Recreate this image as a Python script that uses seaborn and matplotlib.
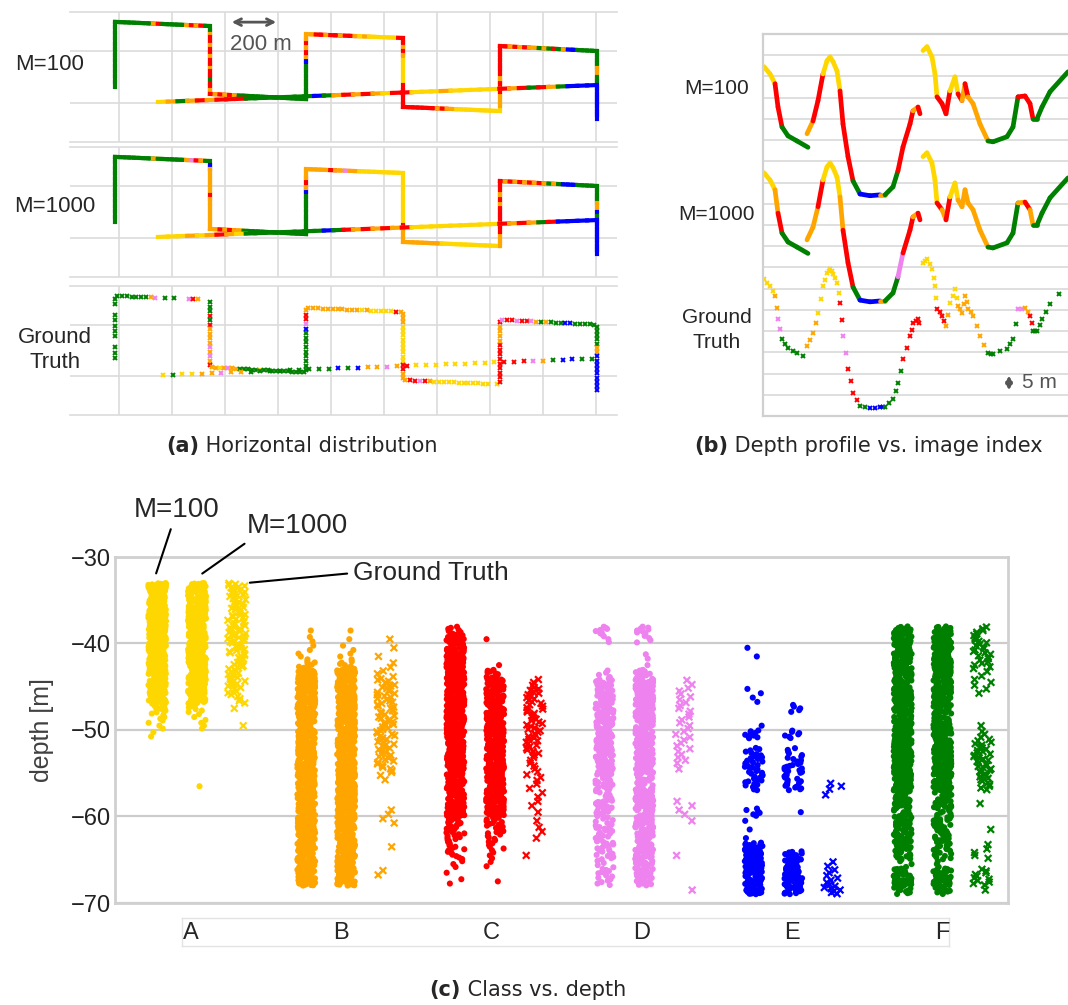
import matplotlib
matplotlib.use("Agg")
import matplotlib.pyplot as plt
import numpy as np
import pandas as pd
import seaborn as sns

CLASSES = ["A", "B", "C", "D", "E", "F"]
CLASS_COLORS = ["gold", "orange", "red", "violet", "blue", "green"]
METHODS = ["M=100", "M=1000", "Ground Truth"]

# ---- (a) survey track in metres: lawnmower polyline plus one crossing leg
TRACK_X = [-15, -15, 343, 343, 706, 706, 1072, 1072, 1438, 1438, 1804, 1804]
TRACK_Y = [60, 312, 296, 35, 15, 265, 250, -15, -31, 219, 200, -62]
CROSS_X = [147, 1804]
CROSS_Y = [4, 69]

# class letter for each stretch of a leg (11 polyline legs, then the crossing leg)
TRACK_M100 = [
    "FFFFFFFFFFFF", "FFFFFFFFBCFFFFFBCBCF", "FFBCCBCCBCCBCCFCCB",
    "CBCBCBFFFFFFFFFFFFFF", "FFFFFFFFEBCBCB", "BBCCBCCBCCBABAAAAAAC",
    "CCBCBAAAAAACCCCC", "CCCCCCCBCBBAAAAAAAAA", "ABBBCCCBCCCCCC",
    "CCBCBCBBFBFCFBEEFFFF", "FFFFBBFFEEEEEEEE",
    "ABFBCBCCCFFFFFFFEFBCBCBACCAAABAAAAACBCFCBFEEE",
]
TRACK_M1000 = [
    "FFFFFFFFFFFF", "FFFFFFFFBFFFFFFBDCBF", "FEBBBBBBBCBBBBBBBB",
    "BBCBCBBFFFFFFFFFFFFF", "FFFFFFFFFEBCBB", "BBBBBCBBDBBAAAAAAAAA",
    "AAAAAAAAAAAACBBB", "BBBBBBBBAAAAAAAAAAAA", "BBBCCCCCCBCBCC",
    "CBCBCBCBCBFBFEEEFFFF", "FFFFBBEFEEEEEEEE",
    "AAABABCBAFFFFFFFFEFCBCBCBCAAAAAAAAACBCBFCEEEE",
]
# "." = no ground-truth sample at that spot
TRACK_GT = [
    "FFF.FFFFF.FF", "FFFFFFFBD.F.F..DCB..", "FFFCFCBBBBDBDBC",
    "BBABDBBFFFFFAFFFFFFFFFFF", "FFFFFFFFFEDCCB", "BBBBBBBBBBBABAAAAACB",
    "BBBAAAAAAAAACCBB", "BCCDCBAAAAAAAAAAAA.A", "CCCCCCCCCBBBBC",
    "DCCDCCDBFBFFFEEFFFFF", "FFFFFBBEEEEEEEEE",
    "AFAABBDBBFFFFFFFFFEFEBBDBCAAAAAAAAACCCDBFEEFF",
]

# ---- (b) depth profile along the image sequence, three pieces
PROFILE_INDEX = [
    [4, 28, 48, 60, 76, 100, 136, 180],
    [176, 200, 220, 240, 256, 268, 280, 296, 308, 320, 340, 360, 388, 428,
     468, 488, 520, 540, 560, 588, 600, 620, 628],
    [640, 656, 676, 688, 696, 716, 732, 748, 768, 780, 796, 808, 820, 840,
     868, 900, 920, 976, 1000, 1020, 1048, 1068, 1080, 1096, 1116, 1148, 1220],
]
PROFILE_DEPTH = [
    [-37.7, -39.4, -41.7, -47.2, -51.9, -54.0, -55.2, -56.7],
    [-53.5, -50.5, -45.7, -39.4, -36.3, -35.4, -36.5, -38.7, -43.4, -51.2,
     -58.9, -64.6, -67.7, -68.1, -67.9, -67.9, -66.0, -62.2, -56.6, -51.2,
     -48.1, -47.2, -48.8],
    [-33.9, -33.0, -35.4, -39.4, -44.8, -46.4, -48.8, -43.4, -40.1, -44.1,
     -45.7, -41.7, -44.8, -46.4, -51.2, -55.2, -55.4, -54.2, -51.9, -44.8,
     -44.6, -46.4, -50.0, -50.0, -47.2, -43.6, -38.9],
]
PROFILE_M100 = ["AACCFFFF", "BCCAAAAACCCFEEBFFCCCBCC", "AAAACCCAACBCBBBFFFFCCCFFFFF"]
PROFILE_M1000 = ["AABCFFFF", "BBCAAAAABCCFEEBFFDCCBCC", "AAAACBCAABBBBBBFFFFBCBFFFFF"]
PROFILE_GT = ["AABDFFFF", "BBAAAAAACDCCFEEFFFCCCCC", "AAAACCBAABBBBBBFFFFDBCFFFFF"]
PROFILE_OFFSETS = [0, -25, -50]

# ---- (c) number of samples per 1 m depth bin, bins start at -33 m going down
DEPTH_TOPS = list(range(-33, -69, -1))
A_M100 = [34] * 13 + [30, 10, 5, 3, 2] + [0] * 18
A_M1000 = [34] * 13 + [26, 6, 3, 3, 0, 0, 0, 0, 0, 0, 1] + [0] * 12
A_GT = [10, 8, 8, 7, 8, 9, 8, 8, 7, 8, 8, 7, 5, 4, 1, 0, 1] + [0] * 19
B_M100 = [0, 0, 0, 0, 0, 1, 2, 2, 3, 8] + [30] * 19 + [24, 24, 24, 30, 30, 30, 0]
B_M1000 = [0, 0, 0, 0, 0, 1, 1, 2, 3, 7] + [30] * 25 + [0]
B_GT = [0, 0, 0, 0, 0, 0, 1, 1, 1, 2, 3, 7, 7, 7, 7, 7, 7, 7, 7, 6, 6, 5,
        2, 0, 0, 0, 2, 2, 0, 0, 1, 0, 0, 2, 0, 0]
C_M100 = [0, 0, 0, 0, 0, 8] + [30] * 21 + [14, 11, 9, 7, 6, 3, 1, 2, 0]
C_M1000 = [0, 0, 0, 0, 0, 0, 1, 0, 0, 1, 10] + [27] * 16 + [10, 8, 6, 5, 3, 2, 0, 1, 0]
C_GT = [0] * 11 + [3, 6, 6, 6, 6, 6, 6, 6, 5, 3, 3, 3, 2, 2, 2, 1, 1, 2, 1, 0, 1, 0, 0, 0, 0]
D_M100 = [0, 0, 0, 0, 0, 8, 3, 0, 0, 0, 4, 14, 17, 17, 17, 17, 17, 17, 17, 17,
          17, 17, 17, 14, 7, 14, 11, 6, 11, 11, 11, 8, 4, 8, 6, 0]
D_M1000 = [0, 0, 0, 0, 0, 9, 4, 0, 2, 1, 11] + [26] * 11 + \
          [17, 14, 22, 26, 20, 22, 17, 22, 26, 22, 17, 20, 14, 0]
D_GT = [0] * 11 + [2, 3, 3, 3, 3, 3, 3, 3, 3, 3, 1, 0, 0, 0, 2, 2, 1, 0, 0, 0, 1, 0, 0, 0, 1]
E_M100 = [0, 0, 0, 0, 0, 0, 0, 1, 1, 0, 0, 0, 2, 2, 0, 0, 1, 10, 0, 7, 10, 10, 9, 11,
          0, 0, 6, 1, 1, 1, 18, 21, 21, 24, 26, 24]
E_M1000 = [0] * 14 + [5, 0, 0, 7, 0, 5, 7, 10, 7, 10, 0, 0, 1, 0, 0, 0, 0, 16, 18, 21, 26, 18]
E_GT = [0] * 23 + [3, 1, 0, 0, 0, 0, 0, 0, 0, 2, 3, 4, 7]
F_M100 = [0, 0, 0, 0, 0, 17, 32, 32, 32, 32, 32, 20, 32, 32, 32, 17, 32, 32, 32, 32,
          32, 32, 32, 32, 14, 20, 11, 14, 17, 17, 14, 14, 3, 22, 28, 11]
F_M1000 = [0, 0, 0, 0, 0, 17, 32, 32, 32, 32, 32, 17, 28, 28, 20, 17, 32, 32, 32, 32,
           32, 32, 32, 32, 11, 20, 8, 14, 14, 14, 11, 8, 3, 22, 28, 11]
F_GT = [0, 0, 0, 0, 0, 5, 6, 6, 6, 5, 2, 3, 2, 0, 0, 0, 1, 3, 6, 7, 7, 7, 6, 5,
        0, 1, 0, 0, 1, 0, 2, 3, 0, 5, 6, 1]

STRIP_COUNTS = {
    "A": [A_M100, A_M1000, A_GT], "B": [B_M100, B_M1000, B_GT],
    "C": [C_M100, C_M1000, C_GT], "D": [D_M100, D_M1000, D_GT],
    "E": [E_M100, E_M1000, E_GT], "F": [F_M100, F_M1000, F_GT],
}

COLOR_OF = dict(zip(CLASSES, CLASS_COLORS))
W, H = 1068, 1005


def fig_box(x0, y0, x1, y1):
    """Pixel box (top-left origin) -> figure fraction rect."""
    return [x0 / W, 1 - y1 / H, (x1 - x0) / W, (y1 - y0) / H]


def draw_track(ax, codes, gt=False):
    legs = [(TRACK_X[i], TRACK_Y[i], TRACK_X[i + 1], TRACK_Y[i + 1])
            for i in range(len(TRACK_X) - 1)]
    legs.append((CROSS_X[0], CROSS_Y[0], CROSS_X[1], CROSS_Y[1]))
    for (x0, y0, x1, y1), code in zip(legs, codes):
        n = len(code)
        for i, c in enumerate(code):
            if c == ".":
                continue
            if gt:
                t = (i + 0.5) / n
                ax.plot(x0 + (x1 - x0) * t, y0 + (y1 - y0) * t, marker="x",
                        ms=3.2, mew=1.4, color=COLOR_OF[c], ls="none")
            else:
                t0, t1 = i / n, (i + 1) / n
                ax.plot([x0 + (x1 - x0) * t0, x0 + (x1 - x0) * t1],
                        [y0 + (y1 - y0) * t0, y0 + (y1 - y0) * t1],
                        color=COLOR_OF[c], lw=3.0, solid_capstyle="projecting")


sns.set_theme(style="whitegrid")
plt.rcParams["font.family"] = ["Liberation Sans", "DejaVu Sans"]
np.random.seed(4)

fig = plt.figure(figsize=(W / 100, H / 100), dpi=100)

# ---------------- (a) horizontal distribution
row_boxes = [(70, 12, 617, 142), (70, 147, 617, 277), (70, 286, 617, 415)]
for box, codes, gt in zip(row_boxes, [TRACK_M100, TRACK_M1000, TRACK_GT], [False, False, True]):
    ax = fig.add_axes(fig_box(*box))
    ax.set_xlim(-185, 1880)
    ax.set_ylim(-150, 350)
    ax.set_xticks(range(0, 1801, 200))
    ax.set_yticks([0, 200])
    ax.tick_params(length=0, labelbottom=False, labelleft=False)
    ax.grid(True, color="#dcdcdc", lw=1.2)
    for side in ["left", "right"]:
        ax.spines[side].set_visible(False)
    for side in ["top", "bottom"]:
        ax.spines[side].set_color("#dcdcdc")
        ax.spines[side].set_linewidth(1.2)
    draw_track(ax, codes, gt=gt)
    if box[1] == 12:
        ax.annotate("", xy=(415, 311), xytext=(604, 311),
                    arrowprops=dict(arrowstyle="<->", color="#555555", lw=2))
        ax.text(535, 226, "200 m", ha="center", va="center", fontsize=16, color="#555555")

for txt, (x, y) in zip(["M=100", "M=1000", "Ground\nTruth"], [(50, 65), (55, 207), (55, 350)]):
    fig.text(x / W, 1 - y / H, txt, ha="center", va="center", fontsize=16, linespacing=1.3)

# ---------------- (b) depth profile vs image index
axb = fig.add_axes(fig_box(763, 34, 1068, 416))
axb.set_xlim(0, 1220)
axb.set_ylim(-120, -30)
axb.set_yticks(np.arange(-120, -29, 5))
axb.set_xticks([])
axb.tick_params(length=0, labelleft=False)
axb.grid(True, axis="y", color="#d9d9d9", lw=1.2)
axb.spines["right"].set_visible(False)
for side in ["left", "top", "bottom"]:
    axb.spines[side].set_color("#d0d0d0")
    axb.spines[side].set_linewidth(1.6)
for codes_all, offset, method in zip([PROFILE_M100, PROFILE_M1000, PROFILE_GT],
                                     PROFILE_OFFSETS, METHODS):
    for xs, ds, codes in zip(PROFILE_INDEX, PROFILE_DEPTH, codes_all):
        ys = np.array(ds) + offset
        for i in range(len(xs) - 1):
            color = COLOR_OF[codes[i]]
            if method == "Ground Truth":
                # samples at each vertex and half way to the next one
                px = [xs[i], (xs[i] + xs[i + 1]) / 2]
                py = [ys[i], (ys[i] + ys[i + 1]) / 2]
                axb.plot(px, py, ls="none", marker="x", ms=3.2, mew=1.4, color=color)
            else:
                axb.plot(xs[i:i + 2], ys[i:i + 2], color=color,
                         lw=3.4, solid_capstyle="round")
axb.annotate("", xy=(984, -109.8), xytext=(984, -114.6),
             arrowprops=dict(arrowstyle="<|-|>", color="#555555", lw=2, mutation_scale=9))
axb.text(1036, -112.2, "5 m", ha="left", va="center", fontsize=15, color="#555555")

for txt, (x, y) in zip(["M=100", "M=1000", "Ground\nTruth"], [(717, 89), (716, 215), (717, 330)]):
    fig.text(x / W, 1 - y / H, txt, ha="center", va="center", fontsize=15, linespacing=1.35)

# ---------------- (c) class vs depth
records = []
for cls in CLASSES:
    for method, counts in zip(METHODS, STRIP_COUNTS[cls]):
        for top, n in zip(DEPTH_TOPS, counts):
            for j in range(n):
                records.append((cls, method, top - (j + 0.5) / n))
df = pd.DataFrame(records, columns=["class", "method", "depth"])

axc = fig.add_axes(fig_box(115, 557, 1008, 903))
for cls in CLASSES:
    pal = {m: COLOR_OF[cls] for m in METHODS}
    sub = df[df["class"] == cls]
    sns.stripplot(data=sub[sub["method"] != "Ground Truth"], x="class", y="depth",
                  hue="method", hue_order=METHODS, order=CLASSES, palette=pal,
                  dodge=True, jitter=0.18, size=4.4, legend=False, ax=axc)
    sns.stripplot(data=sub[sub["method"] == "Ground Truth"], x="class", y="depth",
                  hue="method", hue_order=METHODS, order=CLASSES, palette=pal,
                  dodge=True, jitter=0.18, size=4.8, marker="x", linewidth=1.6,
                  legend=False, ax=axc)
axc.set_xlim(-0.55, 5.44)
axc.set_ylim(-70, -30)
axc.set_yticks([-70, -60, -50, -40, -30])
axc.set_xticks([])
axc.set_xlabel("")
axc.set_ylabel("depth [m]", fontsize=18, color="#404040", labelpad=12)
axc.tick_params(axis="y", length=0, labelsize=17, labelcolor="#222222", pad=3)
axc.grid(True, axis="y", color="#cccccc", lw=1.6)
axc.grid(False, axis="x")
for side in axc.spines:
    axc.spines[side].set_color("#d0d0d0")
    axc.spines[side].set_linewidth(2)

axc.annotate("M=100", xy=(-0.28, -32.2), xytext=(-0.134, -24.6), fontsize=20,
             ha="center", va="center", annotation_clip=False,
             arrowprops=dict(arrowstyle="-", color="black", lw=1.5, relpos=(0.45, 0.0)))
axc.annotate("M=1000", xy=(0.02, -32.1), xytext=(0.671, -26.4), fontsize=20,
             ha="center", va="center", annotation_clip=False,
             arrowprops=dict(arrowstyle="-", color="black", lw=1.5, relpos=(0.05, 0.0)))
axc.annotate("Ground Truth", xy=(0.336, -33.0), xytext=(1.57, -31.85), fontsize=19,
             ha="center", va="center", annotation_clip=False,
             arrowprops=dict(arrowstyle="-", color="black", lw=1.5, relpos=(0.0, 0.5)))

ax_lab = fig.add_axes(fig_box(182, 918, 949, 946))
ax_lab.set_xlim(-0.06, 5.047)
ax_lab.set_ylim(0, 1)
ax_lab.set_xticks([])
ax_lab.set_yticks([])
ax_lab.grid(False)
for side in ax_lab.spines:
    ax_lab.spines[side].set_color("#e3e3e3")
    ax_lab.spines[side].set_linewidth(1)
for i, cls in enumerate(CLASSES):
    ax_lab.text(i, 0.45, cls, ha="center", va="center", fontsize=17)

# ---------------- captions
cap = dict(fontsize=15, va="center", family=["DejaVu Sans"])
for bold, rest, xsplit, y in [("(a)", " Horizontal distribution", 199, 446),
                              ("(b)", " Depth profile vs. image index", 728, 446),
                              ("(c)", " Class vs. depth", 461, 990)]:
    fig.text(xsplit / W, 1 - y / H, bold, ha="right", fontweight="bold", **cap)
    fig.text(xsplit / W, 1 - y / H, rest, ha="left", **cap)

fig.savefig("out.png", dpi=100)
